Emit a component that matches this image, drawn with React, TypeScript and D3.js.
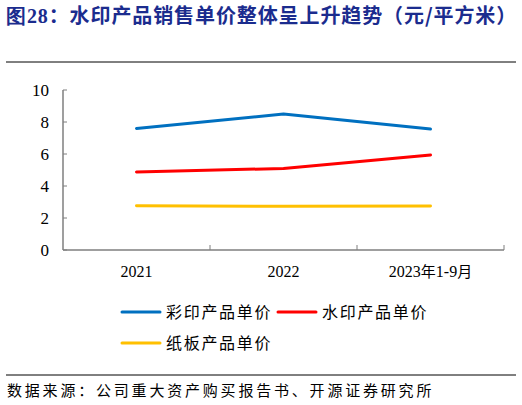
import React, { useEffect, useRef } from 'react';
import * as d3 from 'd3';

const categories = ['2021', '2022', '2023年1-9月'];
const colorPrint = [7.6, 8.5, 7.56];
const waterPrint = [4.87, 5.1, 5.94];
const cardboard = [2.77, 2.73, 2.75];
const yTicks = [0, 2, 4, 6, 8, 10];

const seriesList = [
  { name: '彩印产品单价', values: colorPrint, color: '#0070C0' },
  { name: '水印产品单价', values: waterPrint, color: '#FF0000' },
  { name: '纸板产品单价', values: cardboard, color: '#FFC000' },
];

const cjk = '"Noto Sans CJK SC", sans-serif';
const serif = '"Liberation Serif", "Times New Roman", serif';

const App: React.FC = () => {
  const svgRef = useRef<SVGSVGElement | null>(null);

  useEffect(() => {
    if (!svgRef.current) return;
    const svg = d3.select(svgRef.current);
    svg.selectAll('*').remove();

    const left = 63;
    const right = 504;
    const top = 90;
    const bottom = 250;

    // title
    const title = svg.append('text')
      .attr('x', 6)
      .attr('y', 23)
      .attr('fill', '#1b2c8e')
      .attr('font-weight', 'bold')
      .attr('font-size', 20)
      .attr('letter-spacing', 0.9)
      .attr('font-family', cjk);
    title.append('tspan').attr('font-family', serif).text('图28');
    title.append('tspan').text('：水印产品销售单价整体呈上升趋势（元/平方米）');

    svg.append('line')
      .attr('x1', 6).attr('x2', 516)
      .attr('y1', 62).attr('y2', 62)
      .attr('stroke', '#000').attr('stroke-width', 1);

    const x = d3.scaleBand<string>().domain(categories).range([left, right]);
    const y = d3.scaleLinear().domain([0, 10]).range([bottom, top]);

    const axisColor = '#7f7f7f';

    // y axis
    svg.append('line')
      .attr('x1', left).attr('x2', left)
      .attr('y1', top).attr('y2', bottom)
      .attr('stroke', axisColor).attr('stroke-width', 1.5);
    yTicks.forEach((t) => {
      svg.append('line')
        .attr('x1', left).attr('x2', left + 4)
        .attr('y1', y(t)).attr('y2', y(t))
        .attr('stroke', axisColor).attr('stroke-width', 1);
      svg.append('text')
        .attr('x', left - 14)
        .attr('y', y(t) + 6)
        .attr('text-anchor', 'end')
        .attr('font-size', 17)
        .attr('font-family', serif)
        .attr('fill', '#000')
        .text(t);
    });

    // x axis
    svg.append('line')
      .attr('x1', left).attr('x2', right)
      .attr('y1', bottom).attr('y2', bottom)
      .attr('stroke', axisColor).attr('stroke-width', 1.5);
    categories.forEach((c) => {
      const xe = (x(c) as number) + x.bandwidth();
      svg.append('line')
        .attr('x1', xe).attr('x2', xe)
        .attr('y1', bottom).attr('y2', bottom - 5)
        .attr('stroke', axisColor).attr('stroke-width', 1);
      const label = svg.append('text')
        .attr('x', (x(c) as number) + x.bandwidth() / 2)
        .attr('y', bottom + 27)
        .attr('text-anchor', 'middle')
        .attr('font-size', 16)
        .attr('font-family', serif)
        .attr('fill', '#000');
      if (c.includes('年')) {
        label.append('tspan').text('2023');
        label.append('tspan').attr('font-family', cjk).attr('font-size', 15).text('年');
        label.append('tspan').text('1-9');
        label.append('tspan').attr('font-family', cjk).attr('font-size', 15).text('月');
      } else {
        label.text(c);
      }
    });

    // lines
    const line = d3.line<number>()
      .x((_, i) => (x(categories[i]) as number) + x.bandwidth() / 2)
      .y((d) => y(d));
    seriesList.forEach((s) => {
      svg.append('path')
        .attr('d', line(s.values))
        .attr('fill', 'none')
        .attr('stroke', s.color)
        .attr('stroke-width', 3)
        .attr('stroke-linecap', 'round')
        .attr('stroke-linejoin', 'round');
    });

    // legend
    const legendPos = [
      { x: 122, y: 312 },
      { x: 278, y: 312 },
      { x: 122, y: 343 },
    ];
    seriesList.forEach((s, i) => {
      const p = legendPos[i];
      svg.append('line')
        .attr('x1', p.x).attr('x2', p.x + 38)
        .attr('y1', p.y).attr('y2', p.y)
        .attr('stroke', s.color).attr('stroke-width', 3)
        .attr('stroke-linecap', 'round');
      svg.append('text')
        .attr('x', p.x + 44)
        .attr('y', p.y + 6)
        .attr('font-size', 16)
        .attr('letter-spacing', 1.7)
        .attr('font-family', cjk)
        .attr('fill', '#000')
        .text(s.name);
    });

    svg.append('line')
      .attr('x1', 6).attr('x2', 516)
      .attr('y1', 375).attr('y2', 375)
      .attr('stroke', '#000').attr('stroke-width', 1);

    svg.append('text')
      .attr('x', 7)
      .attr('y', 396)
      .attr('font-size', 15)
      .attr('letter-spacing', 2.8)
      .attr('font-family', cjk)
      .attr('fill', '#000')
      .text('数据来源：公司重大资产购买报告书、开源证券研究所');
  }, []);

  return (
    <div style={{ position: 'absolute', left: 0, top: 0, background: '#fff' }}>
      <svg ref={svgRef} width={522} height={405} style={{ display: 'block' }} />
    </div>
  );
};

export default App;
